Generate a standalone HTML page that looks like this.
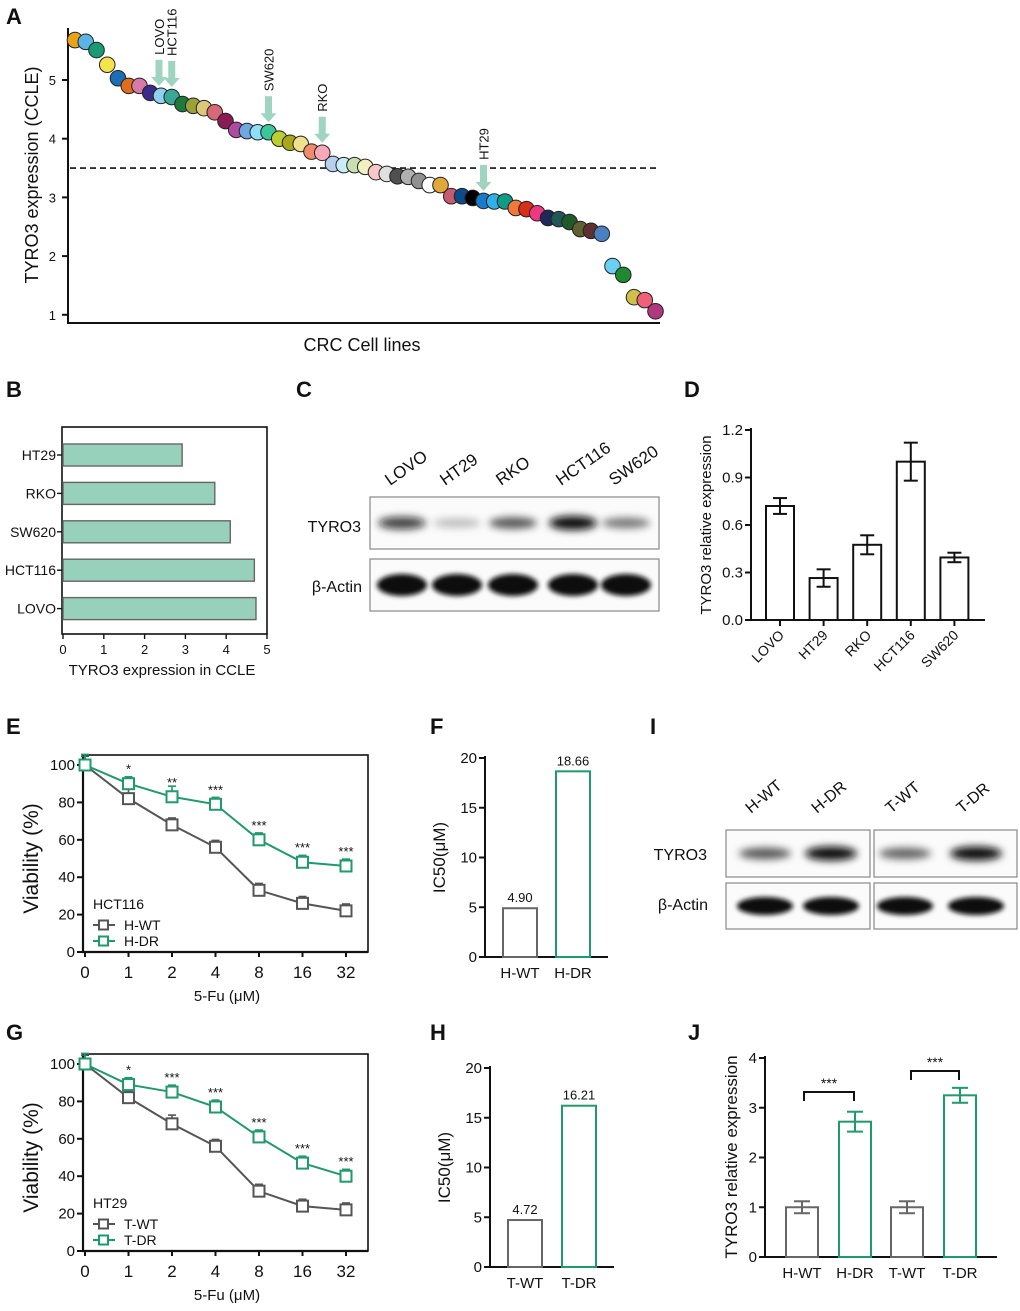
<!DOCTYPE html>
<html><head><meta charset="utf-8"><style>
body{margin:0;background:#fff}
svg{display:block;font-family:"Liberation Sans",Arial,sans-serif}
</style></head><body>
<svg id="fig" width="1020" height="1311" viewBox="0 0 1020 1311" xmlns="http://www.w3.org/2000/svg">
<defs>
<filter id="blur2" x="-20%" y="-60%" width="140%" height="220%"><feGaussianBlur stdDeviation="2.5"/></filter>
<filter id="blur4" x="-20%" y="-80%" width="140%" height="260%"><feGaussianBlur stdDeviation="4"/></filter>
</defs>
<g id="root"></g>
</svg>
<script>
// ---------- DATA ----------
const aValues=[5.68,5.65,5.51,5.26,5.03,4.9,4.9,4.78,4.73,4.71,4.59,4.56,4.52,4.45,4.30,4.15,4.13,4.11,4.11,4.0,3.93,3.91,3.78,3.76,3.57,3.55,3.55,3.52,3.43,3.40,3.36,3.35,3.28,3.21,3.21,3.02,3.02,2.99,2.94,2.93,2.93,2.82,2.80,2.73,2.65,2.63,2.58,2.46,2.43,2.38,1.83,1.68,1.30,1.25,1.06];
const aColors=["#e8a317","#5ab4e5","#1a9a72","#f2e44a","#1c6fb5","#e06c1e","#d87aa8","#3a2a8a","#8fd0f0","#3aa896","#1d7a3a","#9aa03a","#dcc878","#d66878","#8a1c54","#b04aa0","#6fa8e0","#8ee0f8","#3cc49a","#bccf30","#a8a81a","#f0e090","#f08c6a","#f8a8b8","#b8d0f0","#c8ecf8","#c8e0b0","#f0f0c0","#f8c8c8","#e0e0e0","#505050","#b0b0b0","#909090","#ffffff","#e0a838","#c85a70","#0c4a8a","#000000","#1a7ac8","#30b0e8","#109a88","#f07838","#d83018","#f03880","#202858","#205858","#1f5a2a","#606030","#603030","#4a80c0","#68d0f0","#208830","#d0c048","#f06078","#b03880"];
const aMarkNames=["LOVO","HCT116","SW620","RKO","HT29"];
const aMarkIdx=[8,9,18,23,38];
const aThreshold=3.5;
const aTicks=[1,2,3,4,5];

const bCats=["HT29","RKO","SW620","HCT116","LOVO"];
const bVals=[2.92,3.72,4.1,4.69,4.73];
const bTicks=[0,1,2,3,4,5];

const cLanes=["LOVO","HT29","RKO","HCT116","SW620"];
const cTyro=[0.75,0.15,0.6,1.0,0.45];
const cActin=[1,1,1,1,1];

const dCats=["LOVO","HT29","RKO","HCT116","SW620"];
const dVals=[0.72,0.265,0.475,1.0,0.395];
const dErr=[0.05,0.055,0.06,0.12,0.03];
const dTicks=[0,0.3,0.6,0.9,1.2];

const doseLabels=["0","1","2","4","8","16","32"];
const vTicks=[0,20,40,60,80,100];
const eWT=[100,82,68,56,33,26,22];
const eDR=[100,90,83,79,60,48,46];
const eWTerr=[2,3,1,1,1,1,1];
const eDRerr=[3,1,3,1,1,1,1];
const eStars=["","*","**","***","***","***","***"];
const gWT=[100,82,68,56,32,24,22];
const gDR=[100,89,85,77,61,47,40];
const gWTerr=[2,1,2,1,1,1,1];
const gDRerr=[3,1,1,1,1,1,1];
const gStars=["","*","***","***","***","***","***"];

const fCats=["H-WT","H-DR"];
const fVals=[4.90,18.66];
const hCats=["T-WT","T-DR"];
const hVals=[4.72,16.21];
const icTicks=[0,5,10,15,20];

const iLanes=["H-WT","H-DR","T-WT","T-DR"];
const iTyro=[0.6,1.0,0.55,1.0];

const jCats=["H-WT","H-DR","T-WT","T-DR"];
const jVals=[1.0,2.72,1.0,3.25];
const jErr=[0.12,0.2,0.12,0.15];
const jTicks=[0,1,2,3,4];

// ---------- HELPERS ----------
const NS="http://www.w3.org/2000/svg";
const root=document.getElementById('root');
function mk(tag,attrs,parent,text){const e=document.createElementNS(NS,tag);for(const k in attrs)e.setAttribute(k,attrs[k]);if(text!==undefined)e.textContent=text;(parent||root).appendChild(e);return e;}
function grp(name,parent){const g=mk('g',{},parent);return g;}
function line(g,x1,y1,x2,y2,stroke,w){return mk('line',{x1,y1,x2,y2,stroke:stroke||'#111','stroke-width':w||2},g);}
function txt(g,x,y,s,size,anchor,extra){const a=Object.assign({x,y,'font-size':size,'text-anchor':anchor||'middle',fill:'#111'},extra||{});return mk('text',a,g,s);}
function letter(s,x,y){const t=txt(root,x,y,s,22,'start',{'font-weight':'bold'});}

// ---------- PANEL A ----------
(function(){
  const g=grp('panel-a-dot-chart');
  const yS=v=>80-(v-5)*58.7, xS=i=>75+i*10.75;
  line(g,68,28,68,324);line(g,67,323,660,323);
  aTicks.forEach(t=>{line(g,62,yS(t),68,yS(t));txt(g,56,yS(t)+5,String(t),13,'end');});
  const th=mk('line',{x1:70,y1:yS(aThreshold),x2:660,y2:yS(aThreshold),stroke:'#111','stroke-width':1.6,'stroke-dasharray':'6,4'},g);
  
  
  aValues.forEach((v,i)=>{
    const c=mk('circle',{cx:xS(i),cy:yS(v),r:7.8,fill:aColors[i],stroke:'#222','stroke-width':1},g);
    
    
  });
  aMarkIdx.forEach((idx,k)=>{
    const x=xS(idx)+(k===0?-2:0), yb=yS(aValues[idx])-10;
    const ag=grp('arrow-'+aMarkNames[k].toLowerCase(),g);
    mk('rect',{x:x-3.5,y:yb-26,width:7,height:18,fill:'#9fd4c0'},ag);
    mk('polygon',{points:`${x-8},${yb-9} ${x+8},${yb-9} ${x},${yb}`,fill:'#9fd4c0'},ag);
    const ty=yb-31;
    txt(ag,x+5,ty,aMarkNames[k],13,'start',{transform:`rotate(-90 ${x+5} ${ty})`});
  });
  const yl=txt(g,38,175,'TYRO3 expression (CCLE)',18,'middle',{transform:'rotate(-90 38 175)'});
  
  const xl=txt(g,362,351,'CRC Cell lines',18);
  
})();

// ---------- PANEL B ----------
(function(){
  const g=grp('panel-b-bar-chart');
  const x0=63,sc=40.8,yc=i=>455+i*38.4;
  mk('rect',{x:62,y:427,width:205,height:207,fill:'none',stroke:'#111','stroke-width':1.6},g);
  bTicks.forEach(t=>{line(g,x0+t*sc,634,x0+t*sc,639,'#111',1.4);txt(g,x0+t*sc,654,String(t),13);});
  bCats.forEach((c,i)=>{
    const r=mk('rect',{x:x0,y:yc(i)-11,width:bVals[i]*sc,height:22,fill:'#98d1bb',stroke:'#666','stroke-width':1.4},g);
    
    
    line(g,57,yc(i),62,yc(i),'#111',1.4);
    txt(g,56,yc(i)+5,c,14,'end');
  });
  txt(g,162,675,'TYRO3 expression in CCLE',15);
})();

// ---------- BLOT helper ----------
function blot(g,x,y,w,h,lanes,ints,bandW,bandH,dark){
  mk('rect',{x,y,width:w,height:h,fill:'#fbfbfb',stroke:'#888','stroke-width':1.2},g);
  lanes.forEach((lx,i)=>{
    const v=ints[i];
    const b=mk('ellipse',{cx:lx,cy:y+h/2,rx:bandW/2,ry:bandH*(0.6+0.4*v),fill:'#0a0a0a','fill-opacity':dark?1:Math.min(1,0.12+0.88*v),filter:dark?'url(#blur2)':'url(#blur4)'},g);
    
    
  });
}

// ---------- PANEL C ----------
(function(){
  const g=grp('panel-c-western-blot');
  const lx=[402,457,513,573,626];
  blot(g,370,497,289,52,lx,cTyro,48,7,false);
  blot(g,370,559,289,52,lx,cActin,50,11,true);
  txt(g,361,532,'TYRO3',16,'end');
  txt(g,362,592,'β-Actin',16,'end');
  cLanes.forEach((c,i)=>{const x=lx[i]-12,y=486;txt(g,x,y,c,17,'start',{transform:`rotate(-35 ${x} ${y})`});});
})();

// ---------- PANEL D ----------
(function(){
  const g=grp('panel-d-bar-chart');
  const y0=620,sc=190/1.2,yS=v=>y0-v*sc,xc=i=>780+i*43.6;
  line(g,751,428,751,621);line(g,750,620,985,620);
  dTicks.forEach(t=>{line(g,745,yS(t),751,yS(t));txt(g,743,yS(t)+5,t.toFixed(1),15,'end');});
  dCats.forEach((c,i)=>{
    const r=mk('rect',{x:xc(i)-14,y:yS(dVals[i]),width:28,height:dVals[i]*sc,fill:'#fff',stroke:'#111','stroke-width':2},g);
    
    
    const hi=yS(dVals[i]+dErr[i]),lo=yS(dVals[i]-dErr[i]);
    line(g,xc(i),hi,xc(i),lo);line(g,xc(i)-7,hi,xc(i)+7,hi);line(g,xc(i)-7,lo,xc(i)+7,lo);
    line(g,xc(i),620,xc(i),626);
    const x=xc(i)+5,y=636;txt(g,x,y,c,14,'end',{transform:`rotate(-45 ${x} ${y})`});
  });
  txt(g,711,525,'TYRO3 relative expression',15,'middle',{transform:'rotate(-90 711 525)'});
})();

// ---------- VIABILITY ----------
function viability(name,off,wt,dr,wtE,drE,stars,cell,l1,l2){
  const g=grp(name);
  const y0=952+off,sc=1.87,yS=v=>y0-v*sc,xS=i=>85+i*43.5;
  mk('rect',{x:83,y:755+off,width:285,height:y0-755-off,fill:'none',stroke:'#111','stroke-width':1.6},g);
  line(g,83,755+off,83,y0+1,'#111',2.2);line(g,82,y0,368,y0,'#111',2.2);
  vTicks.forEach(t=>{line(g,77,yS(t),83,yS(t));txt(g,75,yS(t)+5,String(t),15,'end');});
  doseLabels.forEach((d,i)=>{line(g,xS(i),y0,xS(i),y0+5);txt(g,xS(i),y0+26,d,17);});
  txt(g,227,y0+49,'5-Fu (μM)',15);
  const cy=(755+off+y0)/2+5;
  txt(g,38,cy,'Viability (%)',21,'middle',{transform:`rotate(-90 38 ${cy})`});
  [[wt,wtE,'#555'],[dr,drE,'#1f9a6c']].forEach(([vals,err,col])=>{
    const pts=vals.map((v,i)=>xS(i)+','+yS(v)).join(' ');
    const pl=mk('polyline',{points:pts,fill:'none',stroke:col,'stroke-width':2},g);
    
    
    vals.forEach((v,i)=>{
      line(g,xS(i),yS(v),xS(i),yS(v+err[i])-5,col,1.6);line(g,xS(i)-4,yS(v+err[i])-5,xS(i)+4,yS(v+err[i])-5,col,1.6);
      const m=mk('rect',{x:xS(i)-5.5,y:yS(v)-5.5,width:11,height:11,fill:'#fff',stroke:col,'stroke-width':2},g);
      
      
    });
  });
  stars.forEach((s,i)=>{if(s)txt(g,xS(i),yS(dr[i])-10,s,13);});
  txt(g,93,y0-43,cell,14,'start');
  [[l1,'#555',y0-27],[l2,'#1f9a6c',y0-11]].forEach(([lab,col,y])=>{
    const lg=grp('legend-entry-'+lab.toLowerCase(),g);
    line(lg,93,y,115,y,col,2);mk('rect',{x:99,y:y-4.5,width:9,height:9,fill:'#fff',stroke:col,'stroke-width':2},lg);
    txt(lg,124,y+5,lab,14,'start');
  });
}
viability('panel-e-viability-chart',0,eWT,eDR,eWTerr,eDRerr,eStars,'HCT116','H-WT','H-DR');
viability('panel-g-viability-chart',299,gWT,gDR,gWTerr,gDRerr,gStars,'HT29','T-WT','T-DR');

// ---------- IC50 ----------
function ic50(name,ax,top,y0,right,cats,vals,bx){
  const g=grp(name);
  const sc=(y0-top)/20,yS=v=>y0-v*sc;
  line(g,ax,top-2,ax,y0+1);line(g,ax-1,y0,right,y0);
  icTicks.forEach(t=>{line(g,ax-6,yS(t),ax,yS(t));txt(g,ax-8,yS(t)+5,String(t),15,'end');});
  const cols=['#666','#1f9a6c'];
  cats.forEach((c,i)=>{
    const r=mk('rect',{x:bx[i],y:yS(vals[i]),width:34,height:vals[i]*sc,fill:'#fff',stroke:cols[i],'stroke-width':2},g);
    
    
    txt(g,bx[i]+17,yS(vals[i])-6,vals[i].toFixed(2),13);
    txt(g,bx[i]+17,y0+21,c,15);
  });
  const cy=(top+y0)/2;
  txt(g,ax-40,cy,'IC50(μM)',17,'middle',{transform:`rotate(-90 ${ax-40} ${cy})`});
}
ic50('panel-f-ic50-chart',485,758,957,608,fCats,fVals,[503,556]);
ic50('panel-h-ic50-chart',490,1068,1267,614,hCats,hVals,[508,562]);

// ---------- PANEL I ----------
(function(){
  const g=grp('panel-i-western-blot');
  blot(g,726,830,144,47,[765,831],iTyro.slice(0,2),52,7,false);
  blot(g,874,830,143,47,[905,976],iTyro.slice(2),52,7,false);
  blot(g,726,883,144,46,[765,831],[1,1],56,9,true);
  blot(g,874,883,143,46,[905,976],[1,1],56,9,true);
  txt(g,707,860,'TYRO3',16,'end');
  txt(g,708,910,'β-Actin',16,'end');
  [765,831,905,976].forEach((x0,i)=>{const x=x0-14,y=814;txt(g,x,y,iLanes[i],16,'start',{transform:`rotate(-40 ${x} ${y})`});});
})();

// ---------- PANEL J ----------
(function(){
  const g=grp('panel-j-bar-chart');
  const y0=1257,sc=(1257-1058)/4,yS=v=>y0-v*sc,bx=[786,839,891,944];
  const cols=['#666','#1f9a6c','#666','#1f9a6c'];
  line(g,765,1056,765,1258);line(g,764,y0,997,y0);
  jTicks.forEach(t=>{line(g,759,yS(t),765,yS(t));txt(g,757,yS(t)+5,String(t),15,'end');});
  jCats.forEach((c,i)=>{
    const cx=bx[i]+16;
    const r=mk('rect',{x:bx[i],y:yS(jVals[i]),width:32,height:jVals[i]*sc,fill:'#fff',stroke:cols[i],'stroke-width':2},g);
    
    
    const hi=yS(jVals[i]+jErr[i]),lo=yS(jVals[i]-jErr[i]);
    line(g,cx,hi,cx,lo,cols[i]);line(g,cx-8,hi,cx+8,hi,cols[i]);line(g,cx-8,lo,cx+8,lo,cols[i]);
    txt(g,cx,y0+21,c,15);
  });
  [[804,854,1092],[911,959,1071]].forEach(([a,b,y])=>{
    mk('polyline',{points:`${a},${y+9} ${a},${y} ${b},${y} ${b},${y+9}`,fill:'none',stroke:'#111','stroke-width':2},g);
    txt(g,(a+b)/2,y-4,'***',14);
  });
  txt(g,737,1157,'TYRO3 relative expression',17,'middle',{transform:'rotate(-90 737 1157)'});
})();

// ---------- LETTERS ----------
letter('A',6,24);letter('B',6,397);letter('C',296,397);letter('D',684,397);
letter('E',6,734);letter('F',430,734);letter('I',650,734);
letter('G',6,1040);letter('H',430,1040);letter('J',688,1040);
</script>
</body></html>
